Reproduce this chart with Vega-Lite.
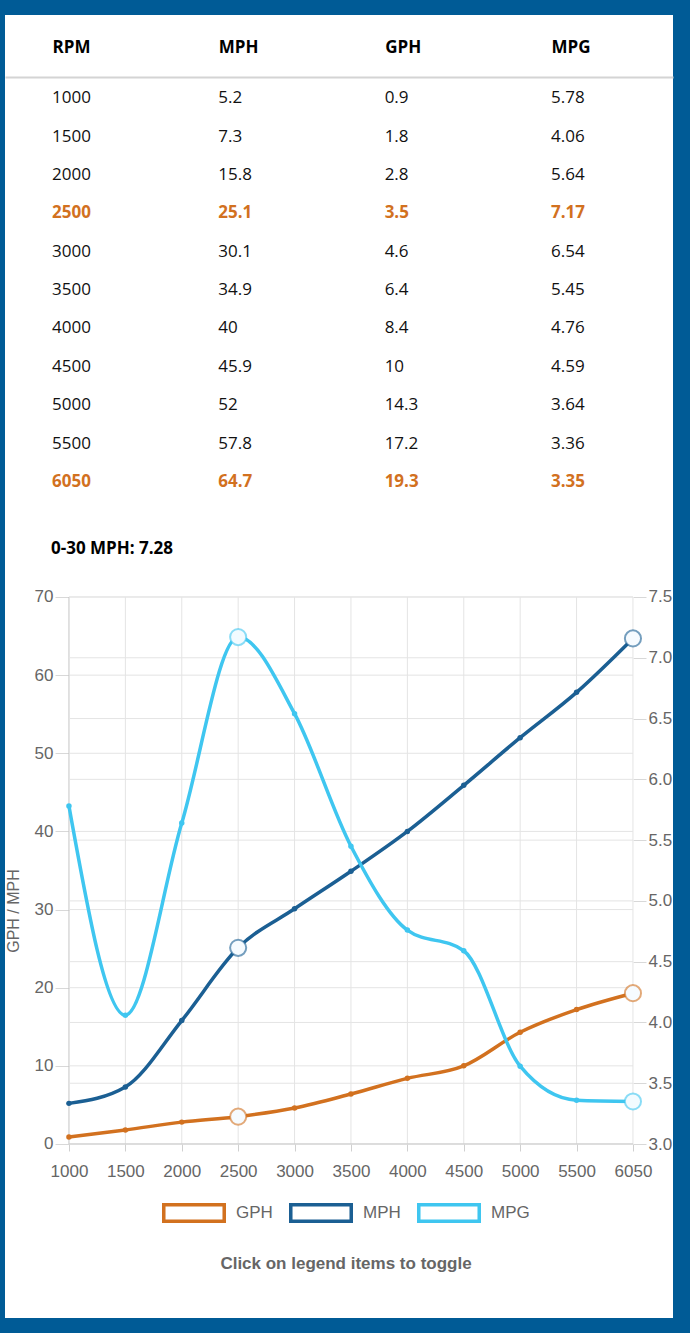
{
  "$schema": "https://vega.github.io/schema/vega-lite/v6.json",
  "background": "#005b96",
  "padding": {"left": 5, "top": 15, "right": 17, "bottom": 15},
  "spacing": 0,
  "config": {"view": {"fill": "white", "stroke": null}, "font": "Open Sans"},
  "datasets": {
    "engine": [
      {"RPM": 1000, "MPH": 5.2, "GPH": 0.9, "MPG": 5.78},
      {"RPM": 1500, "MPH": 7.3, "GPH": 1.8, "MPG": 4.06},
      {"RPM": 2000, "MPH": 15.8, "GPH": 2.8, "MPG": 5.64},
      {"RPM": 2500, "MPH": 25.1, "GPH": 3.5, "MPG": 7.17},
      {"RPM": 3000, "MPH": 30.1, "GPH": 4.6, "MPG": 6.54},
      {"RPM": 3500, "MPH": 34.9, "GPH": 6.4, "MPG": 5.45},
      {"RPM": 4000, "MPH": 40, "GPH": 8.4, "MPG": 4.76},
      {"RPM": 4500, "MPH": 45.9, "GPH": 10, "MPG": 4.59},
      {"RPM": 5000, "MPH": 52, "GPH": 14.3, "MPG": 3.64},
      {"RPM": 5500, "MPH": 57.8, "GPH": 17.2, "MPG": 3.36},
      {"RPM": 6050, "MPH": 64.7, "GPH": 19.3, "MPG": 3.35}
    ],
    "lticks": [{"v": 0}, {"v": 10}, {"v": 20}, {"v": 30}, {"v": 40}, {"v": 50}, {"v": 60}, {"v": 70}],
    "rticks": [{"v": 3.0}, {"v": 3.5}, {"v": 4.0}, {"v": 4.5}, {"v": 5.0}, {"v": 5.5}, {"v": 6.0}, {"v": 6.5}, {"v": 7.0}, {"v": 7.5}]
  },
  "vconcat": [
    {
      "width": 668,
      "height": 488,
      "data": {"name": "engine"},
      "transform": [{"fold": ["RPM", "MPH", "GPH", "MPG"], "as": ["col", "val"]}],
      "encoding": {
        "x": {
          "field": "col", "type": "nominal", "sort": ["RPM", "MPH", "GPH", "MPG"],
          "scale": {"type": "point", "padding": 0.508, "align": 0.278},
          "axis": {
            "orient": "top", "title": null, "offset": -62, "labelAngle": 0,
            "labelAlign": "left", "labelBaseline": "alphabetic", "labelPadding": 25,
            "labelFont": "Open Sans", "labelFontSize": 17, "labelFontWeight": "bold", "labelColor": "#000",
            "ticks": false, "tickSize": 0, "domainColor": "#d4d4d4", "domainWidth": 2, "grid": false
          }
        },
        "y": {
          "field": "RPM", "type": "ordinal",
          "scale": {"type": "band", "paddingInner": 0, "paddingOuter": 0.857, "align": 0.972},
          "axis": null
        },
        "text": {"field": "val", "type": "nominal"}
      },
      "layer": [
        {
          "transform": [{"filter": "!(datum.RPM === 2500 || datum.RPM === 6050)"}],
          "mark": {"type": "text", "align": "left", "baseline": "middle", "font": "Open Sans", "fontSize": 17, "color": "#111"}
        },
        {
          "transform": [{"filter": "datum.RPM === 2500 || datum.RPM === 6050"}],
          "mark": {"type": "text", "align": "left", "baseline": "middle", "font": "Open Sans", "fontSize": 17, "fontWeight": "bold", "color": "#d2711f"}
        }
      ]
    },
    {
      "width": 668,
      "height": 815,
      "title": {
        "text": "0-30 MPH: 7.28", "anchor": "start", "frame": "group", "offset": -68, "dx": 46,
        "baseline": "alphabetic", "font": "Open Sans", "fontSize": 17, "fontWeight": "bold", "color": "#000"
      },
      "resolve": {"scale": {"y": "independent"}},
      "layer": [
        {
          "data": {"name": "engine"},
          "mark": {"type": "rule", "strokeWidth": 1},
          "encoding": {
            "x": {"field": "RPM", "type": "ordinal", "title": null,
              "scale": {"type": "point", "domain": [1000, 1500, 2000, 2500, 3000, 3500, 4000, 4500, 5000, 5500, 6050], "padding": 0.922, "align": 0.615},
              "axis": {
                "orient": "bottom", "offset": -174, "labelAngle": 0, "grid": false, "domain": false,
                "tickSize": 7, "tickColor": "#d0d0d0", "labelPadding": 12, "labelBaseline": "top",
                "labelFont": "Liberation Sans Narrow, Liberation Sans", "labelFontSize": 17, "labelColor": "#666"
              }
            },
            "y": {"datum": 0, "type": "quantitative", "scale": {"domain": [-22.267, 82.029], "nice": false, "zero": false}, "axis": null},
            "y2": {"datum": 70},
            "color": {"condition": {"test": "datum.RPM === 1000", "value": "#c4c4c4"}, "value": "#e4e4e4"}
          }
        },
        {
          "data": {"name": "lticks"},
          "mark": {"type": "rule", "strokeWidth": 1},
          "encoding": {
            "x": {"datum": 1000, "type": "ordinal", "title": null},
            "x2": {"datum": 6050},
            "y": {"field": "v", "type": "quantitative",
              "scale": {"domain": [-22.267, 82.029], "nice": false, "zero": false},
              "axis": {
                "orient": "left", "offset": -64, "values": [0, 10, 20, 30, 40, 50, 60, 70], "grid": false, "domain": false,
                "tickSize": 14, "tickColor": "#d8d8d8", "labelPadding": 2,
                "labelFont": "Liberation Sans Narrow, Liberation Sans", "labelFontSize": 17, "labelColor": "#666",
                "title": "GPH / MPH", "titleFont": "Liberation Sans Narrow, Liberation Sans", "titleFontSize": 16,
                "titleFontWeight": "normal", "titleColor": "#666", "titlePadding": 13
              }
            },
            "color": {"condition": {"test": "datum.v === 0", "value": "#aaaaaa"}, "value": "#e4e4e4"}
          }
        },
        {
          "data": {"name": "rticks"},
          "mark": {"type": "rule", "strokeWidth": 1, "color": "#e4e4e4"},
          "encoding": {
            "x": {"datum": 1000, "type": "ordinal", "title": null},
            "x2": {"datum": 6050},
            "y": {"field": "v", "type": "quantitative",
              "scale": {"domain": [1.5686, 8.2733], "nice": false, "zero": false},
              "axis": {
                "orient": "right", "offset": -40, "values": [3.0, 3.5, 4.0, 4.5, 5.0, 5.5, 6.0, 6.5, 7.0, 7.5], "format": ".1f",
                "grid": false, "domain": false, "tickSize": 13, "tickColor": "#d8d8d8", "labelPadding": 2,
                "labelFont": "Liberation Sans Narrow, Liberation Sans", "labelFontSize": 17, "labelColor": "#666", "title": null
              }
            }
          }
        },
        {
          "data": {"name": "engine"},
          "transform": [{"fold": ["GPH", "MPH"], "as": ["series", "value"]}],
          "mark": {"type": "line", "interpolate": "monotone", "strokeWidth": 3.5},
          "encoding": {
            "x": {"field": "RPM", "type": "ordinal", "title": null},
            "y": {"field": "value", "type": "quantitative", "scale": {"domain": [-22.267, 82.029], "nice": false, "zero": false}, "axis": null},
            "color": {
              "field": "series", "type": "nominal",
              "scale": {"domain": ["GPH", "MPH", "MPG"], "range": ["#d2711f", "#1b5f93", "#3fc6f0"]},
              "legend": {
                "orient": "none", "legendX": 157, "legendY": 1166, "direction": "horizontal",
                "title": "Click on legend items to toggle", "titleOrient": "bottom", "titleAnchor": "middle", "titleLimit": 0,
                "titleFont": "Liberation Sans Narrow, Liberation Sans", "titleFontSize": 17, "titleFontWeight": "bold", "titleColor": "#666",
                "titlePadding": 33,
                "labelFont": "Liberation Sans Narrow, Liberation Sans", "labelFontSize": 17, "labelColor": "#666", "labelOffset": 10,
                "symbolType": "M-1,-0.3125H1V0.3125H-1Z M-0.89,-0.203V0.203H0.89V-0.203Z", "symbolSize": 4096, "symbolStrokeWidth": 0,
                "columnPadding": 16
              }
            }
          }
        },
        {
          "data": {"name": "engine"},
          "mark": {"type": "line", "interpolate": "monotone", "strokeWidth": 3.5},
          "encoding": {
            "x": {"field": "RPM", "type": "ordinal", "title": null},
            "y": {"field": "MPG", "type": "quantitative", "scale": {"domain": [1.5686, 8.2733], "nice": false, "zero": false}, "axis": null},
            "color": {"datum": "MPG", "type": "nominal"}
          }
        },
        {
          "data": {"name": "engine"},
          "transform": [{"fold": ["GPH", "MPH"], "as": ["series", "value"]}, {"filter": "!(datum.RPM === 2500 || datum.RPM === 6050)"}],
          "mark": {"type": "circle", "size": 30, "opacity": 1},
          "encoding": {
            "x": {"field": "RPM", "type": "ordinal", "title": null},
            "y": {"field": "value", "type": "quantitative", "scale": {"domain": [-22.267, 82.029], "nice": false, "zero": false}, "axis": null},
            "fill": {"field": "series", "type": "nominal", "scale": {"domain": ["GPH", "MPH", "MPG"], "range": ["#d2711f", "#1b5f93", "#3fc6f0"]}, "legend": null}
          }
        },
        {
          "data": {"name": "engine"},
          "transform": [{"filter": "!(datum.RPM === 2500 || datum.RPM === 6050)"}],
          "mark": {"type": "circle", "size": 30, "opacity": 1},
          "encoding": {
            "x": {"field": "RPM", "type": "ordinal", "title": null},
            "y": {"field": "MPG", "type": "quantitative", "scale": {"domain": [1.5686, 8.2733], "nice": false, "zero": false}, "axis": null},
            "fill": {"datum": "MPG", "type": "nominal", "legend": null}
          }
        },
        {
          "data": {"name": "engine"},
          "transform": [{"fold": ["GPH", "MPH"], "as": ["series", "value"]}, {"filter": "datum.RPM === 2500 || datum.RPM === 6050"}],
          "mark": {"type": "point", "shape": "circle", "filled": false, "fill": "#f6fbff", "fillOpacity": 1, "size": 260, "strokeWidth": 2, "strokeOpacity": 0.6},
          "encoding": {
            "x": {"field": "RPM", "type": "ordinal", "title": null},
            "y": {"field": "value", "type": "quantitative", "scale": {"domain": [-22.267, 82.029], "nice": false, "zero": false}, "axis": null},
            "color": {"field": "series", "type": "nominal"}
          }
        },
        {
          "data": {"name": "engine"},
          "transform": [{"filter": "datum.RPM === 2500 || datum.RPM === 6050"}],
          "mark": {"type": "point", "shape": "circle", "filled": false, "fill": "#f2fbff", "fillOpacity": 1, "size": 260, "strokeWidth": 2, "strokeOpacity": 0.6},
          "encoding": {
            "x": {"field": "RPM", "type": "ordinal", "title": null},
            "y": {"field": "MPG", "type": "quantitative", "scale": {"domain": [1.5686, 8.2733], "nice": false, "zero": false}, "axis": null},
            "color": {"datum": "MPG", "type": "nominal"}
          }
        }
      ]
    }
  ]
}
